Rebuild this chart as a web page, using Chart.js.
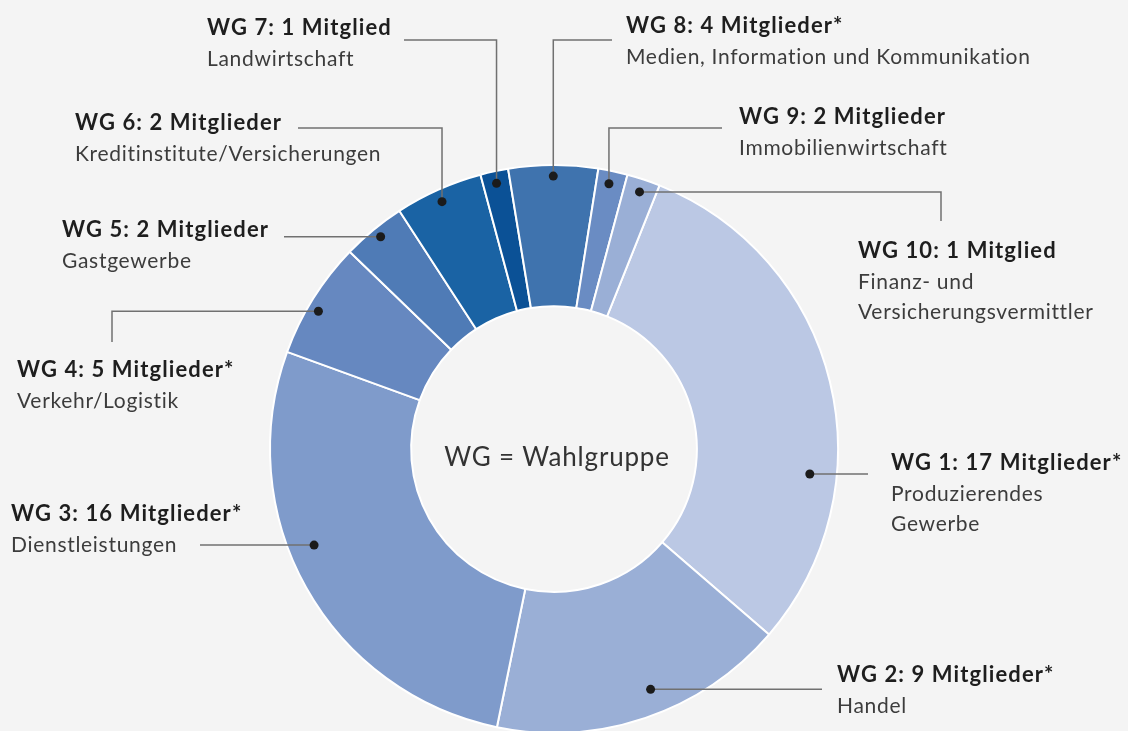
<!DOCTYPE html>
<html><head><meta charset="utf-8">
<script src="https://cdn.jsdelivr.net/npm/chart.js@4.4.1/dist/chart.umd.min.js"></script>
<style>
html,body{margin:0;padding:0;background:#f4f4f4;overflow:hidden;}
#wrap{position:relative;width:1128px;height:735px;}
</style></head><body>
<div id="wrap"><canvas id="c" width="1128" height="735"></canvas></div>
<script>
// ---- data ----
const groups = ['WG 1','WG 2','WG 3','WG 4','WG 5','WG 6','WG 7','WG 8','WG 9','WG 10'];
const memberCounts = [17, 9, 16, 5, 2, 2, 1, 4, 2, 1];
const starred = [true, true, true, true, false, false, false, true, false, false];
// slice sizes as drawn in the reference (degrees of the ring)
const sliceShares = [109, 60.8, 98.4, 24, 13, 18, 5.7, 18.3, 6, 6.8];
const sectors = [
  ['Produzierendes', 'Gewerbe'],
  ['Handel'],
  ['Dienstleistungen'],
  ['Verkehr/Logistik'],
  ['Gastgewerbe'],
  ['Kreditinstitute/Versicherungen'],
  ['Landwirtschaft'],
  ['Medien, Information und Kommunikation'],
  ['Immobilienwirtschaft'],
  ['Finanz- und', 'Versicherungsvermittler']
];
const centerText = 'WG = Wahlgruppe';

// ---- styles ----
const colors = ['#bbc8e4','#9aafd6','#7f9bcb','#6688c0','#4f7bb6','#1a63a4','#0b5196','#3f73ae','#6a8cc3','#9aafd6'];
const FONT = 'Lato, "Open Sans", sans-serif';

// label layout: text anchor (left x, baseline of bold line), dot placement in slice,
// leader route
const labelLayout = [
  {x: 891, y: 470, frac: 0.677, rad: 0.905, leader: {type: 'h', toX: 868}},
  {x: 837, y: 682, frac: 0.449, rad: 0.912, leader: {type: 'h', toX: 822}},
  {x: 11,  y: 521, frac: 0.575, rad: 0.910, leader: {type: 'h', toX: 200}},
  {x: 17,  y: 377, frac: 0.43,  rad: 0.961, leader: {type: 'hv', x: 112, toY: 342}},
  {x: 62,  y: 237, frac: 0.52,  rad: 0.965, leader: {type: 'h', toX: 284}},
  {x: 75,  y: 130, frac: 0.48,  rad: 0.956, leader: {type: 'vh', y: 128, toX: 298}},
  {x: 207, y: 35,  frac: 0.49,  rad: 0.957, leader: {type: 'vh', y: 40, toX: 404}},
  {x: 626, y: 33,  frac: 0.50,  rad: 0.961, leader: {type: 'vh', y: 40, toX: 612}},
  {x: 739, y: 124, frac: 0.45,  rad: 0.954, leader: {type: 'vh', y: 128, toX: 722}},
  {x: 858, y: 258, frac: 0.50,  rad: 0.954, leader: {type: 'hv', x: 941, toY: 221}}
];

const titles = groups.map((g, i) =>
  g + ': ' + memberCounts[i] + ' ' + (memberCounts[i] === 1 ? 'Mitglied' : 'Mitglieder') + (starred[i] ? '*' : ''));

function setSpacing(ctx, px) {
  if ('letterSpacing' in ctx) ctx.letterSpacing = px + 'px';
}

const annotate = {
  id: 'annotate',
  afterDatasetsDraw(chart) {
    const ctx = chart.ctx;
    const arcs = chart.getDatasetMeta(0).data;
    ctx.save();
    // center text
    const c0 = arcs[0];
    ctx.fillStyle = '#333333';
    ctx.font = '400 26px ' + FONT;
    setSpacing(ctx, 0.8);
    ctx.textAlign = 'center';
    ctx.textBaseline = 'middle';
    ctx.fillText(centerText, c0.x + 3, c0.y + 9);

    arcs.forEach((arc, i) => {
      const L = labelLayout[i];
      const a = arc.startAngle + (arc.endAngle - arc.startAngle) * L.frac;
      const r = arc.outerRadius * L.rad;
      const dx = arc.x + r * Math.cos(a);
      const dy = arc.y + r * Math.sin(a);
      // leader
      ctx.strokeStyle = '#707070';
      ctx.lineWidth = 1.5;
      ctx.beginPath();
      ctx.moveTo(dx, dy);
      if (L.leader.type === 'h') {
        ctx.lineTo(L.leader.toX, dy);
      } else if (L.leader.type === 'vh') {
        ctx.lineTo(dx, L.leader.y);
        ctx.lineTo(L.leader.toX, L.leader.y);
      } else {
        ctx.lineTo(L.leader.x, dy);
        ctx.lineTo(L.leader.x, L.leader.toY);
      }
      ctx.stroke();
      // dot
      ctx.fillStyle = '#1b1b1b';
      ctx.beginPath();
      ctx.arc(dx, dy, 4.5, 0, Math.PI * 2);
      ctx.fill();
      // text
      ctx.textAlign = 'left';
      ctx.textBaseline = 'alphabetic';
      ctx.fillStyle = '#1e1e1e';
      ctx.font = '700 22px ' + FONT;
      setSpacing(ctx, 1.1);
      ctx.fillText(titles[i], L.x, L.y);
      ctx.fillStyle = '#3c3c3c';
      ctx.font = '400 21px ' + FONT;
      setSpacing(ctx, 0.7);
      sectors[i].forEach((s, k) => ctx.fillText(s, L.x, L.y + 31 + k * 30));
    });
    ctx.restore();
  }
};

new Chart(document.getElementById('c'), {
  type: 'doughnut',
  data: {
    labels: groups,
    datasets: [{
      data: sliceShares,
      backgroundColor: colors,
      borderColor: '#ffffff',
      borderWidth: 2,
      hoverOffset: 0
    }]
  },
  options: {
    responsive: false,
    devicePixelRatio: 1,
    animation: false,
    rotation: 21.8,
    cutout: '50.3%',
    layout: {padding: {left: 269, top: 164, right: 289, bottom: 1}},
    plugins: {legend: {display: false}, tooltip: {enabled: false}},
    events: []
  },
  plugins: [annotate]
});
</script>
</body></html>
